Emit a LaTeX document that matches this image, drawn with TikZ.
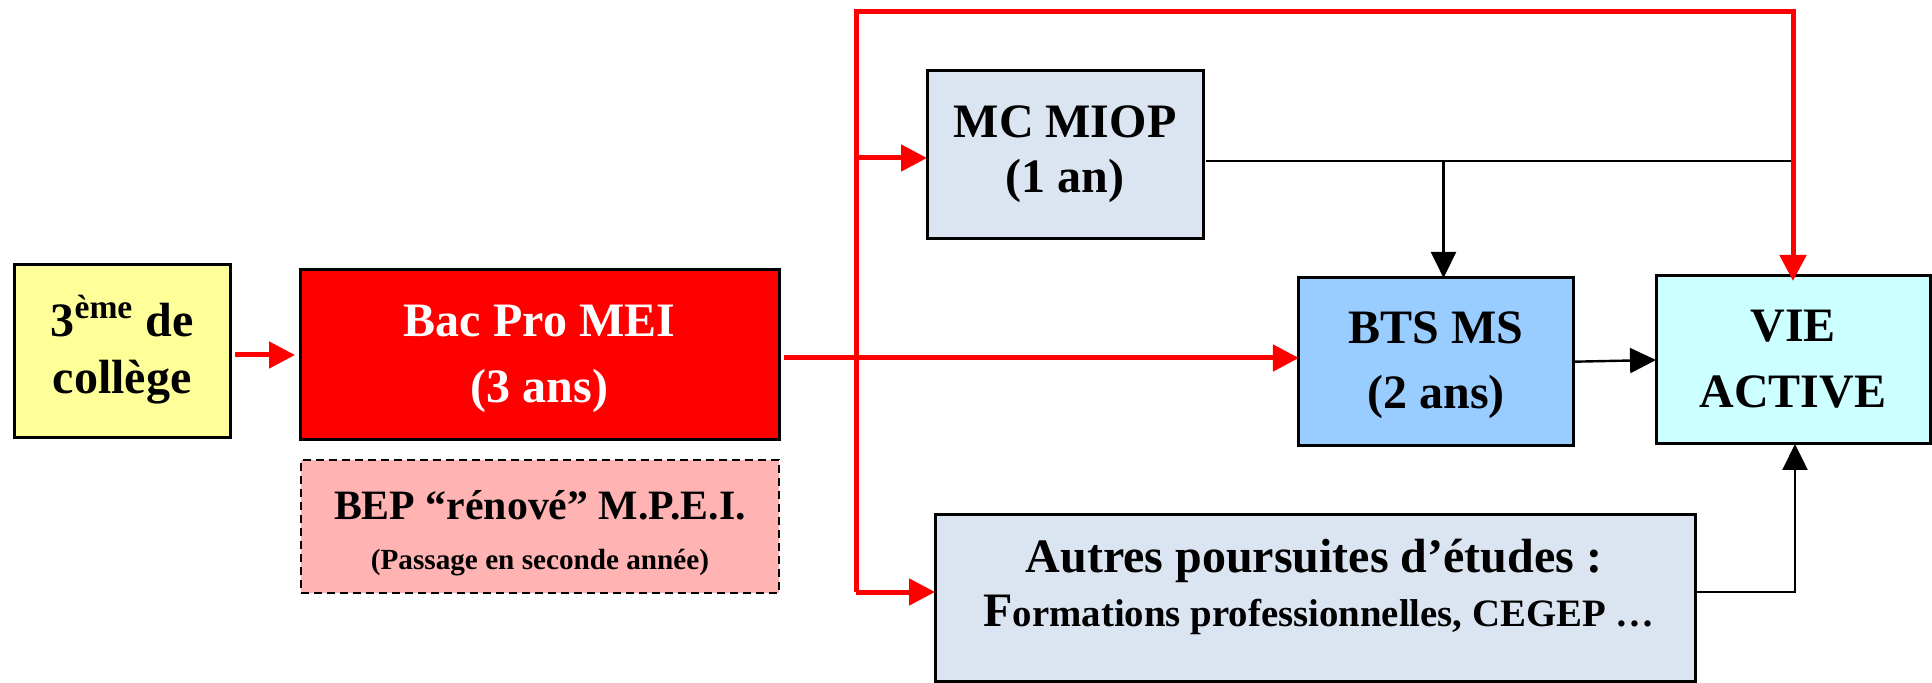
\documentclass[tikz,border=0pt]{standalone}
\usepackage{fontspec}
\setmainfont{Liberation Serif}
\usetikzlibrary{arrows.meta}
\definecolor{colyellow}{HTML}{FFFF99}
\definecolor{colpink}{HTML}{FFB3B3}
\definecolor{colgray}{HTML}{DBE5F1}
\definecolor{colblue}{HTML}{99CCFF}
\definecolor{colcyan}{HTML}{CCFFFF}
\begin{document}
\begin{tikzpicture}[x=0.5pt,y=-0.5pt,
  box/.style={draw=black, line width=1.5pt, inner sep=0pt, outer sep=0pt},
  tbig/.style={anchor=base, inner sep=0pt, font=\fontsize{24}{28}\selectfont\bfseries},
  tmid/.style={anchor=base, inner sep=0pt, font=\fontsize{20.9}{25}\selectfont\bfseries},
  tsmall/.style={anchor=base, inner sep=0pt, font=\fontsize{14.6}{17}\selectfont\bfseries},
  tnine/.style={anchor=base, inner sep=0pt, font=\fontsize{19.4}{23}\selectfont\bfseries},
  redline/.style={draw=red, line width=2.5pt},
  redarrow/.style={redline, -{Triangle[length=13pt,width=13pt]}},
  blkline/.style={draw=black, line width=1.2pt},
  blkarrow/.style={blkline, -{Triangle[length=13pt,width=12.5pt]}},
]
\useasboundingbox (0,0) rectangle (1932,683);

% boxes
\node[box, fill=colyellow, minimum width=108pt, minimum height=86.5pt] (col) at (122,351.5) {};
\node[box, fill=red, minimum width=239.5pt, minimum height=85pt] (bac) at (539.5,355) {};
\node[box, dashed, dash pattern=on 4pt off 2.5pt, line width=1pt, fill=colpink, minimum width=239pt, minimum height=66.5pt] (bep) at (540,526.5) {};
\node[box, fill=colgray, minimum width=138pt, minimum height=84.25pt] (mc) at (1065,154.75) {};
\node[box, fill=colblue, minimum width=137.5pt, minimum height=83.75pt] (bts) at (1436.4,361.7) {};
\node[box, fill=colcyan, minimum width=137pt, minimum height=84pt] (vie) at (1793,360) {};
\node[box, fill=colgray, minimum width=380pt, minimum height=83.3pt] (aut) at (1315,598.3) {};

% texts
\node[tbig] (cola) at (122,337) {3\textsuperscript{ème} de};
\node[tbig] (colb) at (122,394) {collège};
\node[tbig, text=white] (baca) at (539.5,337) {Bac Pro MEI};
\node[tbig, text=white] (bacb) at (539.5,403) {(3 ans)};
\node[tmid] (bepa) at (540,520) {BEP “rénové” M.P.E.I.};
\node[tsmall] (bepb) at (540,569) {(Passage en seconde année)};
\node[tbig] (mca) at (1065,138) {MC MIOP};
\node[tbig] (mcb) at (1065,193) {(1 an)};
\node[tbig] (btsa) at (1436,344) {BTS MS};
\node[tbig] (btsb) at (1436,409) {(2 ans)};
\node[tbig] (viea) at (1793,342) {VIE};
\node[tbig] (vieb) at (1793,408) {ACTIVE};
\node[tbig] (auta) at (1314,573) {Autres poursuites d’études :};
\node[tnine] (autb) at (1319,626) {{\fontsize{24}{28}\selectfont F}ormations professionnelles, CEGEP …};

% coordinates
\coordinate (ttop) at (856,12);
\coordinate (tbot) at (856,592);
\coordinate (bm) at (856,158);
\coordinate (mr) at (1792,161);
\coordinate (md) at (1443.5,161);
\coordinate (ar) at (1795,592);

% black connectors
\draw[blkline] ([xshift=1.5pt]mc.east |- mr) -- (mr);
\draw[blkarrow] (md) -- (md |- bts.north);
\draw[blkarrow] (bts.east) -- (vie.west);
\draw[blkarrow] (aut.east |- ar) -- (ar) -- (ar |- vie.south);

% red connectors
\draw[redarrow, shorten <=2.5pt, shorten >=2.5pt] (col.east |- bac.west) -- (bac.west);
\draw[redarrow, shorten <=2.5pt] ([yshift=-1.5pt]bac.east) -- ([yshift=-1.5pt]bac.east -| bts.west);
\draw[redarrow, shorten >=-2.5pt] (tbot) -- (ttop) -| (vie.north);
\draw[redarrow] (bm) -- (bm -| mc.west);
\draw[redarrow] (tbot) -- (tbot -| aut.west);
\end{tikzpicture}
\end{document}
